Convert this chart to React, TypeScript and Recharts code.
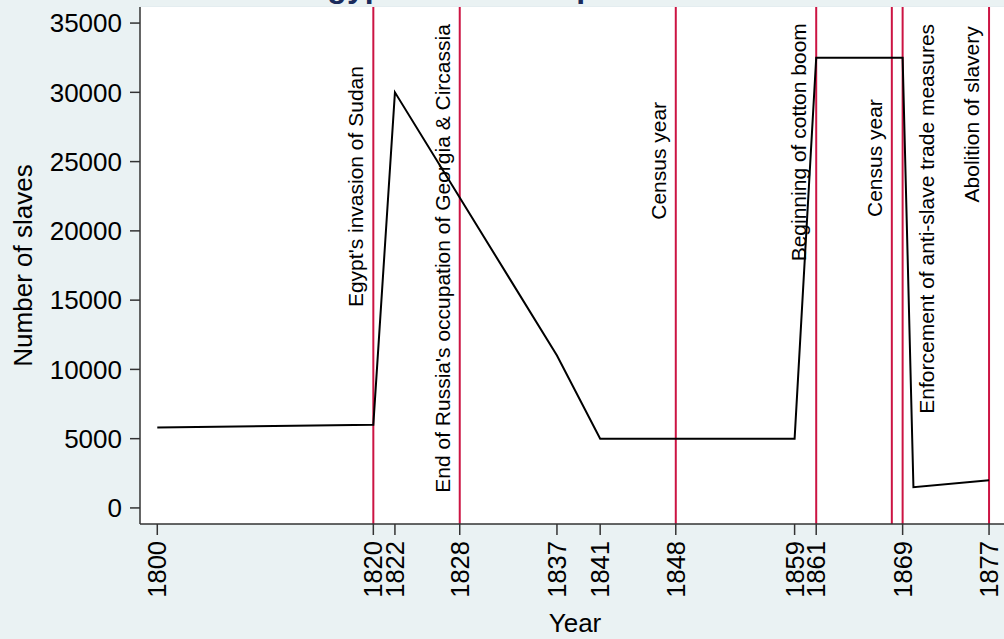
import {
  LineChart,
  Line,
  XAxis,
  YAxis,
  CartesianGrid,
  ReferenceLine,
  ReferenceDot,
} from 'recharts';

// Slave imports into Egypt
const years = [1800, 1820, 1822, 1837, 1841, 1848, 1849, 1851, 1859, 1861, 1869, 1870, 1877];
const slaves = [5800, 6000, 30000, 11000, 5000, 5000, 5000, 5000, 5000, 32500, 32500, 1500, 2000];

const xTicks = [1800, 1820, 1822, 1828, 1837, 1841, 1848, 1859, 1861, 1869, 1877];
const yTicks = [0, 5000, 10000, 15000, 20000, 25000, 30000, 35000];

// Event markers (vertical lines) and their rotated notes
const eventYears = [1820, 1828, 1848, 1861, 1868, 1869, 1877];
const eventLabels = [
  "Egypt's invasion of Sudan",
  "End of Russia's occupation of Georgia & Circassia",
  'Census year',
  'Beginning of cotton boom',
  'Census year',
  'Enforcement of anti-slave trade measures',
  'Abolition of slavery',
];
// value where each note starts (its lower end)
const eventLabelStart = [14500, 1100, 20800, 17800, 21000, 6800, 22050];
const eventLabelRight = [false, false, false, false, false, true, false];

const chartData = years.map((year, i) => ({ year, slaves: slaves[i] }));

const FONT = '"Liberation Sans", Arial, Helvetica, sans-serif';
const RED = '#cc1443';
const AXIS = '#333';
const BG = '#eaf2f3';

function YearTick(props: any) {
  const { x, y, payload } = props;
  const bx = x + 9;
  return (
    <text
      x={bx}
      y={y}
      transform={`rotate(-90 ${bx} ${y})`}
      textAnchor="end"
      fontSize={25.5}
      fontFamily={FONT}
      fill="#000"
    >
      {payload.value}
    </text>
  );
}

function makeNote(text: string, right: boolean) {
  return (props: any) => {
    const vb = props.viewBox;
    if (!vb) return null;
    const cx = vb.x + (vb.width || 0) / 2;
    const bx = right ? cx + 31 : cx - 10;
    const by = vb.y + (vb.height || 0) / 2;
    return (
      <text
        x={bx}
        y={by}
        transform={`rotate(-90 ${bx} ${by})`}
        textAnchor="start"
        fontSize={21}
        fontFamily={FONT}
        fill="#000"
      >
        {text}
      </text>
    );
  };
}

export default function App() {
  return (
    <div
      style={{
        position: 'fixed',
        left: 0,
        top: 0,
        width: 1004,
        height: 639,
        overflow: 'hidden',
        background: BG,
      }}
    >
      <svg
        width={1004}
        height={20}
        style={{ position: 'absolute', left: 0, top: 0, overflow: 'visible' }}
      >
        <text x={306} y={-3} fontSize={32} fontWeight="bold" fontFamily={FONT} fill="#1a2b5c">
          Egyptian slave imports over time
        </text>
      </svg>
      <LineChart
        width={1010}
        height={639}
        data={chartData}
        margin={{ top: 7, right: 0, left: 0, bottom: 35 }}
        style={{ position: 'absolute', left: 0, top: 0 }}
      >
        <rect x={140} y={7} width={870} height={517} fill="#fff" />
        <CartesianGrid
          horizontal
          vertical={false}
          stroke="#e4edf0"
          strokeWidth={2}
          fill="#fff"
        />
        <XAxis
          dataKey="year"
          type="number"
          domain={[1798.4, 1878.94]}
          ticks={xTicks}
          interval={0}
          height={80}
          tickSize={11}
          tickMargin={6}
          tick={<YearTick />}
          stroke={AXIS}
          strokeWidth={1.5}
          allowDataOverflow
          label={{
            content: (p: any) => {
              const vb = p.viewBox;
              return (
                <text
                  x={vb.x + vb.width / 2}
                  y={vb.y + 108}
                  textAnchor="middle"
                  fontSize={26}
                  fontFamily={FONT}
                  fill="#000"
                >
                  Year
                </text>
              );
            },
          }}
        />
        <YAxis
          type="number"
          domain={[-1160, 36160]}
          ticks={yTicks}
          interval={0}
          width={140}
          tickSize={10}
          tickMargin={8}
          allowDataOverflow
          stroke={AXIS}
          strokeWidth={1.5}
          tick={{ fill: '#000', fontSize: 26, fontFamily: FONT }}
          label={{
            content: (p: any) => {
              const vb = p.viewBox;
              const bx = 32;
              const by = vb.y + vb.height / 2;
              return (
                <text
                  x={bx}
                  y={by}
                  transform={`rotate(-90 ${bx} ${by})`}
                  textAnchor="middle"
                  fontSize={26}
                  fontFamily={FONT}
                  fill="#000"
                >
                  Number of slaves
                </text>
              );
            },
          }}
        />
        {eventYears.map((yr, i) => (
          <ReferenceLine
            key={`line-${i}`}
            x={yr}
            stroke={RED}
            strokeWidth={2}
          />
        ))}
        <Line
          type="linear"
          dataKey="slaves"
          stroke="#000"
          strokeWidth={2}
          dot={false}
          activeDot={false}
          isAnimationActive={false}
        />
        {eventYears.map((yr, i) => (
          <ReferenceDot
            key={`note-${i}`}
            x={yr}
            y={eventLabelStart[i]}
            r={1}
            fill="none"
            stroke="none"
            label={makeNote(eventLabels[i], eventLabelRight[i])}
          />
        ))}
      </LineChart>
    </div>
  );
}
